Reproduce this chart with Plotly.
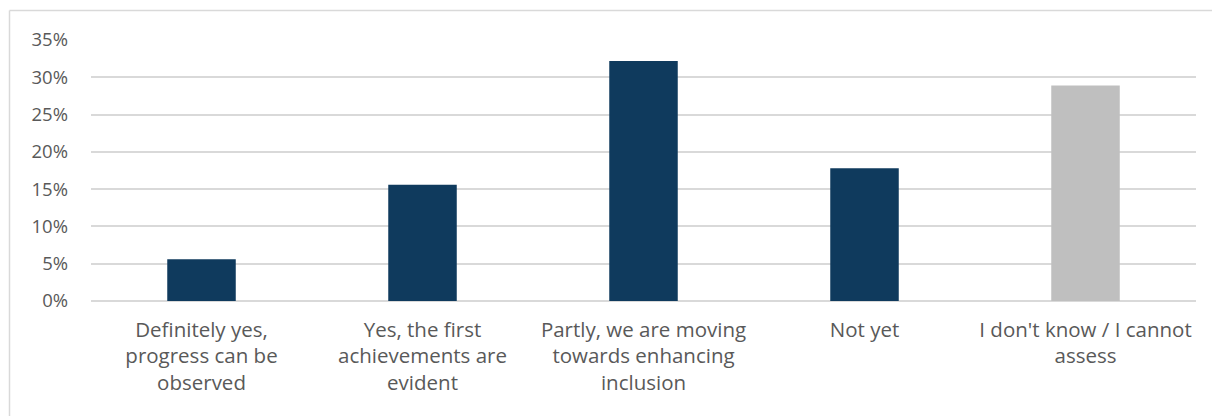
import plotly.graph_objects as go

categories = [
    "Definitely yes,<br>progress can be<br>observed",
    "Yes, the first<br>achievements are<br>evident",
    "Partly, we are moving<br>towards enhancing<br>inclusion",
    "Not yet",
    "I don't know / I cannot<br>assess",
]
shares = [5.6, 15.6, 32.2, 17.8, 28.9]
bar_colors = ["#0F3A5D", "#0F3A5D", "#0F3A5D", "#0F3A5D", "#BFBFBF"]
y_ticks = [0, 5, 10, 15, 20, 25, 30, 35]
y_tick_labels = [f"{v}%" for v in y_ticks]

W, H = 1212, 416
ML, MR, MT, MB = 91, 16, 40, 114.5

fig = go.Figure(
    go.Bar(
        x=categories,
        y=shares,
        marker=dict(color=bar_colors, line=dict(width=0)),
        width=0.31,
        hoverinfo="x+y",
    )
)

# outer chart frame (top and left edges)
pw = W - ML - MR
ph = H - MT - MB
def px_x(p):
    return (p - ML) / pw
def px_y(p):
    return (H - MB - p) / ph

fig.add_shape(type="line", xref="paper", yref="paper",
              x0=px_x(9.5), x1=px_x(W + 5), y0=px_y(10.5), y1=px_y(10.5),
              line=dict(color="#D9D9D9", width=1.5))
fig.add_shape(type="line", xref="paper", yref="paper",
              x0=px_x(9.5), x1=px_x(9.5), y0=px_y(10.5), y1=px_y(H + 5),
              line=dict(color="#D9D9D9", width=1.5))

fig.update_layout(
    width=W,
    height=H,
    margin=dict(l=ML, r=MR, t=MT, b=MB),
    paper_bgcolor="white",
    plot_bgcolor="white",
    showlegend=False,
    font=dict(family="Open Sans, Lato, sans-serif", size=19, color="#595959"),
    xaxis=dict(
        showgrid=False,
        showline=False,
        zeroline=False,
        ticks="",
        tickangle=0,
        ticklabelstandoff=14,
        tickfont=dict(family="Open Sans, sans-serif", size=20.5, color="#595959"),
    ),
    yaxis=dict(
        range=[0, 35],
        tickvals=y_ticks,
        ticktext=y_tick_labels,
        showgrid=True,
        gridcolor="#D9D9D9",
        gridwidth=1.5,
        zeroline=True,
        zerolinecolor="#D9D9D9",
        zerolinewidth=1.5,
        showline=False,
        ticks="",
        ticklabelstandoff=22,
        tickfont=dict(family="Open Sans, sans-serif", size=18.5, color="#595959"),
    ),
)

fig.write_html("out.html")
